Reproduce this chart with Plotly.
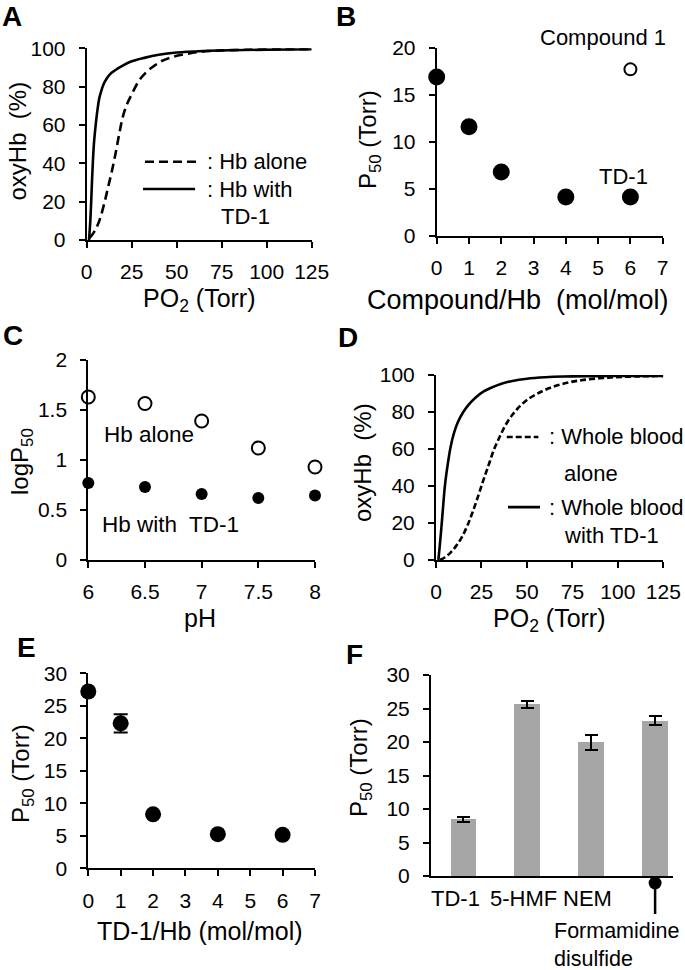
import plotly.graph_objects as go

W, H = 685, 970
FONT = "Liberation Sans, Arial, sans-serif"

# ---------------- data ----------------
# Panel A: oxygen equilibrium curves of Hb
a_alone_po2 = [1.5, 4, 7, 10, 12, 14, 16, 18, 20, 22, 25, 29, 33, 37, 42, 48, 55, 63, 75, 90, 110, 125]
a_alone_oxy = [1, 4, 10, 20, 28, 36, 45, 55, 64, 70, 76, 83, 87.5, 90.5, 93.5, 95.6, 97, 98.2, 98.9, 99.3, 99.5, 99.6]
a_td1_po2 = [1.3, 2, 2.5, 3, 3.5, 4, 5, 6, 7, 8.5, 10, 13, 16, 20, 25, 32, 40, 50, 65, 80, 100, 125]
a_td1_oxy = [0, 10, 20, 32, 42, 50, 60, 68, 74, 79, 82.5, 86.5, 88.7, 91, 93.2, 95, 96.6, 97.8, 98.6, 99, 99.3, 99.5]

# Panel B: P50 vs compound/Hb
b_td1_ratio = [0, 1, 2, 4, 6]
b_td1_p50 = [16.9, 11.6, 6.8, 4.15, 4.15]
b_cmp1_ratio = [6]
b_cmp1_p50 = [17.7]

# Panel C: logP50 vs pH
c_ph = [6, 6.5, 7, 7.5, 8]
c_alone_logp50 = [1.63, 1.565, 1.39, 1.12, 0.93]
c_td1_logp50 = [0.77, 0.73, 0.66, 0.62, 0.645]

# Panel D: whole blood curves
d_alone_po2 = [2.2, 5, 8, 11, 14, 17, 20, 23, 26, 29, 32, 35, 38, 42, 46, 50, 55, 62, 70, 80, 95, 110, 125]
d_alone_oxy = [0, 1.5, 4, 7.5, 12, 18, 25.5, 34, 43, 51.5, 60, 66.5, 72.5, 78.5, 83, 86.5, 89.5, 92.8, 95.3, 97.2, 98.6, 99.2, 99.5]
d_td1_po2 = [1.3, 2, 3, 4, 5, 6.5, 8, 10, 12, 15, 18, 22, 26, 30, 36, 42, 50, 60, 70, 85, 105, 125]
d_td1_oxy = [0, 7, 18, 30, 41, 52, 61, 69, 74.5, 80, 84, 88, 91, 93, 95.3, 96.8, 98, 98.8, 99.2, 99.4, 99.5, 99.5]

# Panel E: P50 vs TD-1/Hb
e_ratio = [0, 1, 2, 4, 6]
e_p50 = [27.2, 22.3, 8.3, 5.25, 5.15]
e_err = [0, 1.4, 0, 0, 0]

# Panel F: P50 of compounds
f_compounds = ["TD-1", "5-HMF", "NEM", "Formamidine disulfide"]
f_p50 = [8.48, 25.65, 19.95, 23.2]
f_err = [0.35, 0.5, 1.1, 0.62]

# tick labels
oxy_ticks = [0, 20, 40, 60, 80, 100]
po2_ticks = [0, 25, 50, 75, 100, 125]
ratio_ticks = [0, 1, 2, 3, 4, 5, 6, 7]
b_y_ticks = [0, 5, 10, 15, 20]
c_x_ticks = [6, 6.5, 7, 7.5, 8]
c_y_ticks = [0, 0.5, 1, 1.5, 2]
p50_ticks = [0, 5, 10, 15, 20, 25, 30]


# ---------------- helpers ----------------
def xdom(l, r):
    return [l / W, r / W]


def ydom(top, bottom):
    return [1 - bottom / H, 1 - top / H]


def px(x):
    return x / W


def py(y):
    return 1 - y / H


def fmt(v):
    return ("%g" % v)


axis_common = dict(
    showgrid=False, zeroline=False, showline=True, linecolor="black", linewidth=2,
    ticks="outside", ticklen=6, tickwidth=2, tickcolor="black", automargin=False,
    tickfont=dict(family=FONT, size=21, color="black"), fixedrange=True,
)


def xax(dom, rng, tv, anchor, **kw):
    d = dict(axis_common)
    d.update(domain=dom, range=rng, tickmode="array", tickvals=tv,
             ticktext=[fmt(t) for t in tv], anchor=anchor, ticklabelstandoff=6)
    d.update(kw)
    return d


def yax(dom, rng, tv, anchor, **kw):
    d = dict(axis_common)
    d.update(domain=dom, range=rng, tickmode="array", tickvals=tv,
             ticktext=[fmt(t) for t in tv], anchor=anchor, ticklabelstandoff=9)
    d.update(kw)
    return d


fig = go.Figure()
LW = 2.6

# A
fig.add_trace(go.Scatter(x=a_alone_po2, y=a_alone_oxy, mode="lines", line=dict(color="black", width=LW, dash="9px,5px", shape="spline"),
                         xaxis="x", yaxis="y", showlegend=False, cliponaxis=False))
fig.add_trace(go.Scatter(x=a_td1_po2, y=a_td1_oxy, mode="lines", line=dict(color="black", width=LW, shape="spline"),
                         xaxis="x", yaxis="y", showlegend=False, cliponaxis=False))
# B
fig.add_trace(go.Scatter(x=b_td1_ratio, y=b_td1_p50, mode="markers", marker=dict(color="black", size=17),
                         xaxis="x2", yaxis="y2", showlegend=False, cliponaxis=False))
fig.add_trace(go.Scatter(x=b_cmp1_ratio, y=b_cmp1_p50, mode="markers",
                         marker=dict(color="white", size=12, line=dict(color="black", width=2)),
                         xaxis="x2", yaxis="y2", showlegend=False, cliponaxis=False))
# C
fig.add_trace(go.Scatter(x=c_ph, y=c_alone_logp50, mode="markers",
                         marker=dict(color="white", size=13, line=dict(color="black", width=2)),
                         xaxis="x3", yaxis="y3", showlegend=False, cliponaxis=False))
fig.add_trace(go.Scatter(x=c_ph, y=c_td1_logp50, mode="markers", marker=dict(color="black", size=12),
                         xaxis="x3", yaxis="y3", showlegend=False, cliponaxis=False))
# D
fig.add_trace(go.Scatter(x=d_alone_po2, y=d_alone_oxy, mode="lines", line=dict(color="black", width=LW, dash="6px,3px", shape="spline"),
                         xaxis="x4", yaxis="y4", showlegend=False, cliponaxis=False))
fig.add_trace(go.Scatter(x=d_td1_po2, y=d_td1_oxy, mode="lines", line=dict(color="black", width=LW, shape="spline"),
                         xaxis="x4", yaxis="y4", showlegend=False, cliponaxis=False))
# E
fig.add_trace(go.Scatter(x=e_ratio, y=e_p50, mode="markers", marker=dict(color="black", size=16),
                         error_y=dict(type="data", array=e_err, color="black", thickness=2, width=7),
                         xaxis="x5", yaxis="y5", showlegend=False, cliponaxis=False))
# F
f_x = list(range(len(f_compounds)))
fig.add_trace(go.Bar(x=f_x, y=f_p50, width=0.4, marker=dict(color="#A6A6A6", line=dict(width=0)),
                     error_y=dict(type="data", array=f_err, color="black", thickness=2, width=6.5),
                     xaxis="x6", yaxis="y6", showlegend=False))

fig.update_layout(
    template="none",
    width=W, height=H, margin=dict(l=0, r=0, t=0, b=0, pad=0), autosize=False,
    paper_bgcolor="white", plot_bgcolor="white",
    font=dict(family=FONT, size=21, color="black"),
    xaxis=xax(xdom(86.7, 311.7), [0, 125], po2_ticks, "y"),
    yaxis=yax(ydom(48.3, 240), [0, 100], oxy_ticks, "x"),
    xaxis2=xax(xdom(436.7, 662.7), [0, 7], ratio_ticks, "y2"),
    yaxis2=yax(ydom(47.7, 236), [0, 20], b_y_ticks, "x2"),
    xaxis3=xax(xdom(88.3, 315), [6, 8], c_x_ticks, "y3"),
    yaxis3=yax(ydom(360, 560), [0, 2], c_y_ticks, "x3"),
    xaxis4=xax(xdom(436, 663.3), [0, 125], po2_ticks, "y4"),
    yaxis4=yax(ydom(375, 560), [0, 100], oxy_ticks, "x4"),
    xaxis5=xax(xdom(88.3, 315), [0, 7], ratio_ticks, "y5"),
    yaxis5=yax(ydom(673.3, 868.3), [0, 30], p50_ticks, "x5"),
    xaxis6=xax(xdom(431, 673), [-0.505, 3.28], [], "y6", ticks="", showticklabels=False),
    yaxis6=yax(ydom(675, 876), [0, 30], p50_ticks, "x6"),
    bargap=0,
)

ann = []


def text(x, y, s, size=22, xref="paper", yref="paper", **kw):
    d = dict(x=x, y=y, xref=xref, yref=yref, text=s, showarrow=False,
             xanchor="center", yanchor="middle",
             font=dict(family=FONT, size=size, color="black"))
    d.update(kw)
    ann.append(d)


# panel letters
for lab, (lx, ly) in {"A": (12, 16), "B": (346, 16), "C": (13, 335), "D": (348, 337),
                      "E": (26, 647), "F": (354, 654)}.items():
    text(px(lx), py(ly), "<b>%s</b>" % lab, size=28)

# axis titles
TS = 25
text(px(199.2), py(300), "PO<sub>2</sub> (Torr)", size=TS)
text(px(518), py(300), "Compound/Hb&#160; (mol/mol)", size=27)
text(px(200), py(618), "pH", size=TS)
text(px(549), py(620), "PO<sub>2</sub> (Torr)", size=TS)
text(px(200), py(931), "TD-1/Hb (mol/mol)", size=TS)
YS = 24
text(px(16.5), py(141), "oxyHb&#160; (%)", size=YS, textangle=-90)
text(px(370), py(140), "P<sub>50</sub> (Torr)", size=YS, textangle=-90)
text(px(21), py(462), "logP<sub>50</sub>", size=YS, textangle=-90)
text(px(362), py(463), "oxyHb&#160; (%)", size=YS, textangle=-90)
text(px(22), py(774), "P<sub>50</sub> (Torr)", size=YS, textangle=-90)
text(px(360), py(768), "P<sub>50</sub> (Torr)", size=YS, textangle=-90)

# A legend
text(65.7, 40.8, ": Hb alone", xref="x", yref="y", xanchor="left")
text(65.7, 26.6, ": Hb with", xref="x", yref="y", xanchor="left")
text(73.5, 12.5, "TD-1", xref="x", yref="y", xanchor="left")
# B labels
text(5.15, 20, "Compound 1", xref="x2", yref="y2", yshift=10)
text(5.8, 6.37, "TD-1", xref="x2", yref="y2")
# C labels
text(6.12, 1.255, "Hb alone", xref="x3", yref="y3", xanchor="left", size=22.5)
text(6.104, 0.36, "Hb with&#160; TD-1", xref="x3", yref="y3", xanchor="left", size=22.5)
# D legend
text(60.9, 66.5, ": Whole blood", xref="x4", yref="y4", xanchor="left")
text(69.1, 46.5, "alone", xref="x4", yref="y4", xanchor="left")
text(60.9, 28.6, ": Whole blood", xref="x4", yref="y4", xanchor="left")
text(69.1, 13, "with TD-1", xref="x4", yref="y4", xanchor="left")

# F category labels
f_label_shift = [-7.5, -3.5, -3.5]
for i in range(3):
    text(f_x[i], 0, f_compounds[i], xref="x6", yref="y6", xshift=f_label_shift[i], yshift=-22)
text(f_x[3], 0, f_compounds[3].replace(" ", "<br>"), xref="x6", yref="y6", xanchor="left",
     align="left", xshift=-103, yshift=-69, size=21.5)
# pointer (dot + stem) under the last bar
ann.append(dict(x=f_x[3], y=0, xref="x6", yref="y6", yshift=-7, text=" ", font=dict(size=1),
                showarrow=True, ax=0, ay=32, axref="pixel", ayref="pixel", arrowhead=6,
                arrowwidth=2.5, arrowsize=1.3, arrowcolor="black", standoff=0, borderpad=0))

shapes = [
    # A legend samples
    dict(type="line", xref="x", yref="y", x0=32.4, x1=61.3, y0=40.8, y1=40.8,
         line=dict(color="black", width=LW, dash="9px,5px")),
    dict(type="line", xref="x", yref="y", x0=31.3, x1=60.2, y0=26.6, y1=26.6,
         line=dict(color="black", width=LW)),
    # D legend samples
    dict(type="line", xref="x4", yref="y4", x0=38.9, x1=56.3, y0=66.5, y1=66.5,
         line=dict(color="black", width=LW, dash="6px,3px")),
    dict(type="line", xref="x4", yref="y4", x0=39.6, x1=57.2, y0=28.6, y1=28.6,
         line=dict(color="black", width=LW)),
]
fig.update_layout(annotations=ann, shapes=shapes)

fig.write_html("out.html", config={"displayModeBar": False},
               post_script="document.body.style.margin='0';document.body.style.overflow='hidden';")
